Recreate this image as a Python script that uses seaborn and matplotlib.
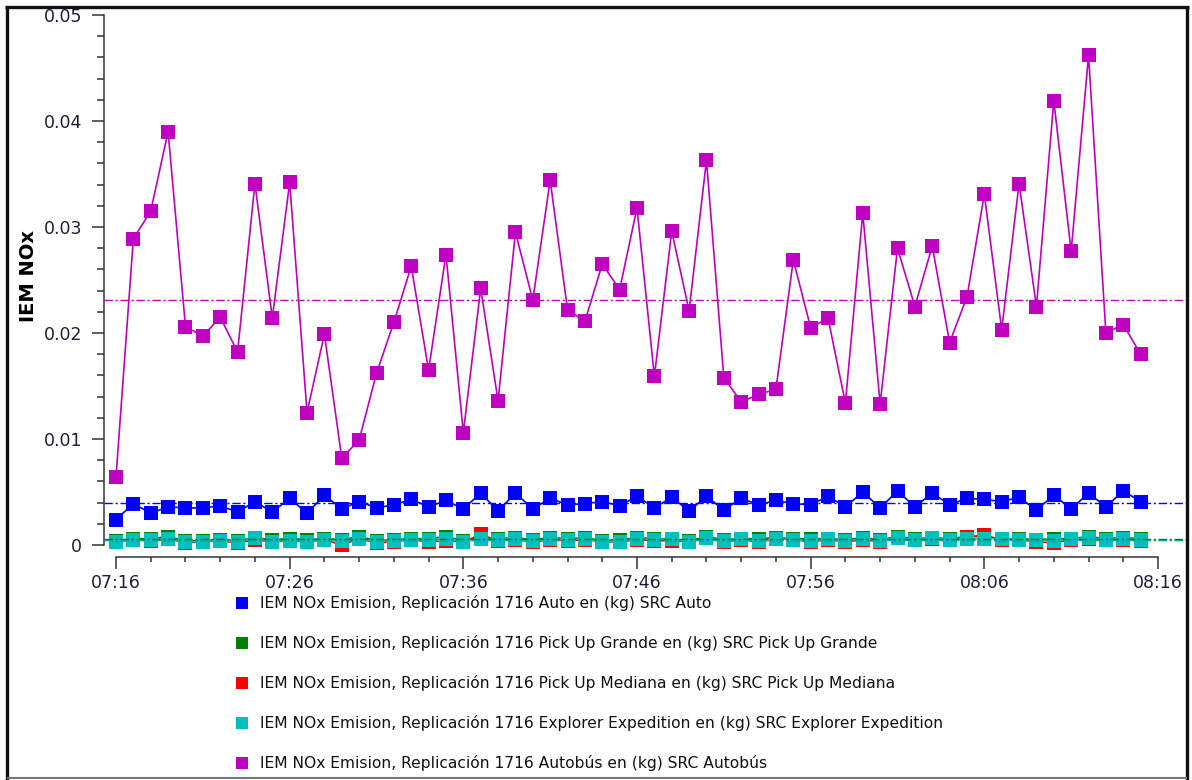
import numpy as np
import pandas as pd
import matplotlib
matplotlib.use("Agg")
import matplotlib.pyplot as plt
import seaborn as sns
from matplotlib.lines import Line2D
from matplotlib.ticker import MultipleLocator, FuncFormatter

# ---- data (kg of NOx per minute, 07:16 .. 08:15) ----
start_hour, start_minute = 7, 16
minutes = list(range(60))

auto = [0.0024, 0.0039, 0.0030, 0.0036, 0.0035, 0.0035, 0.0037, 0.0031, 0.0041, 0.0031,
        0.0044, 0.0030, 0.0047, 0.0034, 0.0041, 0.0035, 0.0038, 0.0043, 0.0036, 0.0042,
        0.0034, 0.0049, 0.0032, 0.0049, 0.0034, 0.0044, 0.0038, 0.0039, 0.0041, 0.0037,
        0.0046, 0.0035, 0.0045, 0.0032, 0.0046, 0.0033, 0.0044, 0.0038, 0.0042, 0.0039,
        0.0038, 0.0046, 0.0036, 0.0050, 0.0035, 0.0051, 0.0036, 0.0049, 0.0038, 0.0044,
        0.0043, 0.0041, 0.0045, 0.0033, 0.0047, 0.0034, 0.0049, 0.0036, 0.0051, 0.0041]

pick_up_grande = [0.0004, 0.0006, 0.0006, 0.0008, 0.0004, 0.0004, 0.0005, 0.0004, 0.0007, 0.0005,
                  0.0006, 0.0005, 0.0006, 0.0005, 0.0008, 0.0004, 0.0005, 0.0006, 0.0006, 0.0008,
                  0.0004, 0.0007, 0.0006, 0.0007, 0.0005, 0.0007, 0.0006, 0.0007, 0.0004, 0.0005,
                  0.0007, 0.0006, 0.0006, 0.0004, 0.0008, 0.0005, 0.0006, 0.0006, 0.0007, 0.0006,
                  0.0006, 0.0006, 0.0005, 0.0007, 0.0005, 0.0008, 0.0006, 0.0007, 0.0006, 0.0008,
                  0.0008, 0.0006, 0.0006, 0.0005, 0.0006, 0.0006, 0.0008, 0.0006, 0.0007, 0.0006]

pick_up_mediana = [0.0003, 0.0005, 0.0004, 0.0006, 0.0002, 0.0003, 0.0004, 0.0002, 0.0005, 0.0003,
                   0.0004, 0.0003, 0.0005, 0.0000, 0.0006, 0.0002, 0.0003, 0.0005, 0.0003, 0.0004,
                   0.0003, 0.0010, 0.0004, 0.0005, 0.0003, 0.0005, 0.0004, 0.0005, 0.0003, 0.0003,
                   0.0005, 0.0004, 0.0004, 0.0003, 0.0007, 0.0003, 0.0005, 0.0003, 0.0006, 0.0005,
                   0.0003, 0.0005, 0.0003, 0.0005, 0.0003, 0.0007, 0.0005, 0.0006, 0.0005, 0.0008,
                   0.0009, 0.0005, 0.0005, 0.0003, 0.0002, 0.0005, 0.0006, 0.0005, 0.0005, 0.0004]

explorer_expedition = [0.0003, 0.0005, 0.0005, 0.0006, 0.0003, 0.0003, 0.0004, 0.0003, 0.0007, 0.0003,
                       0.0004, 0.0003, 0.0005, 0.0004, 0.0006, 0.0003, 0.0004, 0.0005, 0.0005, 0.0006,
                       0.0003, 0.0006, 0.0005, 0.0006, 0.0004, 0.0006, 0.0005, 0.0006, 0.0003, 0.0003,
                       0.0006, 0.0005, 0.0006, 0.0003, 0.0007, 0.0004, 0.0006, 0.0004, 0.0006, 0.0005,
                       0.0004, 0.0006, 0.0004, 0.0006, 0.0004, 0.0007, 0.0005, 0.0007, 0.0005, 0.0006,
                       0.0006, 0.0006, 0.0005, 0.0005, 0.0004, 0.0006, 0.0007, 0.0005, 0.0006, 0.0005]

autobus = [0.0064, 0.0289, 0.0315, 0.0390, 0.0206, 0.0197, 0.0215, 0.0182, 0.0341, 0.0214,
           0.0342, 0.0125, 0.0199, 0.0082, 0.0099, 0.0162, 0.0210, 0.0263, 0.0165, 0.0274,
           0.0106, 0.0242, 0.0136, 0.0295, 0.0231, 0.0344, 0.0222, 0.0211, 0.0265, 0.0241,
           0.0318, 0.0159, 0.0296, 0.0221, 0.0363, 0.0158, 0.0135, 0.0142, 0.0147, 0.0269,
           0.0205, 0.0214, 0.0134, 0.0313, 0.0133, 0.0280, 0.0225, 0.0282, 0.0191, 0.0234,
           0.0331, 0.0203, 0.0341, 0.0225, 0.0419, 0.0277, 0.0462, 0.0200, 0.0208, 0.0180]

series_names = [
    "IEM NOx Emision, Replicación 1716 Auto en (kg) SRC Auto",
    "IEM NOx Emision, Replicación 1716 Pick Up Grande en (kg) SRC Pick Up Grande",
    "IEM NOx Emision, Replicación 1716 Pick Up Mediana en (kg) SRC Pick Up Mediana",
    "IEM NOx Emision, Replicación 1716 Explorer Expedition en (kg) SRC Explorer Expedition",
    "IEM NOx Emision, Replicación 1716 Autobús en (kg) SRC Autobús",
]
series_values = [auto, pick_up_grande, pick_up_mediana, explorer_expedition, autobus]
series_colors = ["#0000FF", "#008000", "#FF0000", "#00BFBF", "#C000C0"]

y_ticks = [0.0, 0.01, 0.02, 0.03, 0.04, 0.05]
y_tick_labels = ["0", "0.01", "0.02", "0.03", "0.04", "0.05"]
x_major_ticks = [0, 10, 20, 30, 40, 50, 60]
y_label = "IEM NOx"

# ---- long-form table for seaborn ----
df = pd.concat(
    [pd.DataFrame({"minuto": minutes, "valor": vals, "serie": name})
     for name, vals in zip(series_names, series_values)],
    ignore_index=True,
)
palette = dict(zip(series_names, series_colors))

sns.set_theme(style="ticks")
plt.rcParams["font.family"] = ["DejaVu Sans"]

W, H = 1192, 780
fig = plt.figure(figsize=(W / 100, H / 100), dpi=100)
fig.patch.set_facecolor("white")

ax_left, ax_right, ax_top, ax_bottom = 104, 1186, 15, 557
ax = fig.add_axes([ax_left / W, (H - ax_bottom) / H,
                   (ax_right - ax_left) / W, (ax_bottom - ax_top) / H])
ax.set_facecolor("white")

sns.lineplot(data=df, x="minuto", y="valor", hue="serie", hue_order=series_names,
             palette=palette, marker="s", markersize=10, markeredgewidth=0,
             linewidth=1.2, errorbar=None, legend=False, ax=ax)

# dash-dot average line for each series
avg_order = [0, 2, 3, 1, 4]
for i in avg_order:
    ax.axhline(np.mean(series_values[i]), color=series_colors[i], lw=1.0,
               ls=(0, (6, 2, 1.5, 2)), zorder=5)

px_per_min = (1158 - 116) / 60
px_per_unit = (545 - 15) / 0.05
x0 = -(116 - ax_left) / px_per_min
ax.set_xlim(x0, x0 + (ax_right - ax_left) / px_per_min)
ax.set_ylim(-(ax_bottom - 545) / px_per_unit, 0.05)

def hhmm(v, pos=None):
    total = start_hour * 60 + start_minute + int(round(v))
    return f"{total // 60:02d}:{total % 60:02d}"

ax.set_xticks(x_major_ticks)
ax.xaxis.set_major_formatter(FuncFormatter(hhmm))
ax.xaxis.set_minor_locator(MultipleLocator(2))
ax.set_yticks(y_ticks, y_tick_labels)
ax.yaxis.set_minor_locator(MultipleLocator(0.002))

tick_col = "#333333"
label_col = "#1e1e3c"
ax.tick_params(axis="y", which="major", direction="out", length=8.6, width=1.1,
               color=tick_col, labelsize=12.5, labelcolor=label_col, pad=7)
ax.tick_params(axis="y", which="minor", direction="out", length=5, width=1.1, color=tick_col)
ax.tick_params(axis="x", which="major", direction="out", length=8.6, width=1.1,
               color=tick_col, labelsize=12.5, labelcolor=label_col, pad=4)
ax.tick_params(axis="x", which="minor", direction="out", length=3.6, width=1.1, color=tick_col)

for side in ("top", "right"):
    ax.spines[side].set_visible(False)
ax.spines["left"].set_bounds(0, 0.05)
ax.spines["bottom"].set_bounds(0, 60)
for side in ("left", "bottom"):
    ax.spines[side].set_color(tick_col)
    ax.spines[side].set_linewidth(1.1)

ax.set_xlabel("")
ax.set_ylabel("")
fig.text(28 / W, 1 - 276 / H, y_label, rotation=90, ha="center", va="center",
         fontsize=14, fontweight="bold", color="black")

# legend below the plot
handles = [Line2D([0], [0], marker="s", ls="none", color=c, markersize=8.5,
                  markeredgewidth=0) for c in series_colors]
fs = 11.2
fig.legend(handles, series_names, loc="upper left",
           bbox_to_anchor=(235 / W, 1 - 595 / H), frameon=False,
           prop={"family": "DejaVu Sans", "size": fs},
           handlelength=0.9, handletextpad=0.7,
           labelspacing=1.55, borderpad=0, borderaxespad=0)
for t in fig.legends[0].get_texts():
    t.set_color("#111111")

# outer frame
def fline(xs, ys, color, lw):
    fig.add_artist(Line2D([x / W for x in xs], [1 - y / H for y in ys],
                          transform=fig.transFigure, color=color, lw=lw,
                          solid_capstyle="butt"))

fline([5, 1189], [7, 7], "#111111", 2.4)
fline([7, 7], [7, 780], "#111111", 2.4)
fline([1187, 1187], [7, 780], "#111111", 2.4)
fline([7, 1187], [778, 778], "#777777", 1.5)

fig.savefig("out.png", dpi=100, facecolor="white")
